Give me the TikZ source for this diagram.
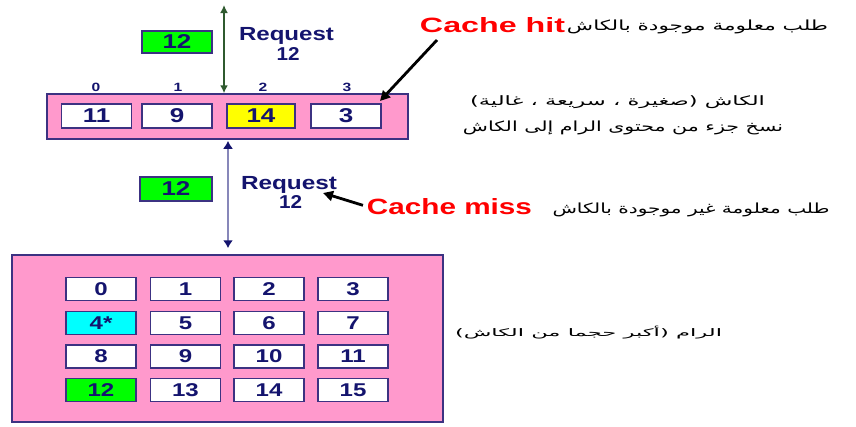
\documentclass[tikz,border=0pt]{standalone}
\usepackage{fontspec}
\usepackage{graphicx}
\setmainfont{Liberation Sans}
\newfontfamily\arabicfont[Script=Arabic]{DejaVu Sans}
\TeXXeTstate=1
\usetikzlibrary{arrows.meta}
\definecolor{pinkfill}{RGB}{255,153,204}
\definecolor{boxline}{RGB}{60,50,130}
\definecolor{navytext}{RGB}{20,20,110}
\definecolor{cellgreen}{RGB}{0,255,0}
\definecolor{cellyellow}{RGB}{255,255,0}
\definecolor{cellcyan}{RGB}{0,255,255}
\definecolor{hitred}{RGB}{255,0,0}
\definecolor{arrowgreen}{RGB}{47,90,47}
\definecolor{arrowblue}{RGB}{135,135,185}
\newcommand{\sx}[1]{\scalebox{1.3}[1]{#1}}
\newcommand{\artext}[3]{\resizebox*{#1}{#2}{\arabicfont #3}}
\begin{document}
\begin{tikzpicture}[x=1pt,y=-1pt,
  pinkbox/.style={draw=boxline,line width=1.5pt,fill=pinkfill,inner sep=0pt},
  cell/.style={draw=boxline,line width=1.4pt,fill=white,inner sep=0pt,
    minimum width=70pt,minimum height=23pt,text=navytext,
    font=\fontsize{18.5}{18.5}\selectfont\bfseries},
  cachecell/.style={cell,minimum height=24pt,font=\fontsize{20}{20}\selectfont\bfseries},
  idx/.style={inner sep=0pt,text=navytext,font=\fontsize{12}{12}\selectfont\bfseries},
  reqtext/.style={inner sep=0pt,text=navytext,font=\bfseries},
  plain/.style={inner sep=0pt},
  pointer/.style={line width=2.8pt,-{Triangle[length=10pt,width=10pt]}}
]
\fill[white] (0,0) rectangle (856,426);
\useasboundingbox (0,0) rectangle (856,426);

% cache
\node[pinkbox,minimum width=361pt,minimum height=45pt] (cache) at (227.5,116.5) {};
\node[cachecell] (c0) at (96.5,116) {\sx{11}};
\node[cachecell] (c1) at (177,116) {\sx{9}};
\node[cachecell,fill=cellyellow,minimum width=68pt] (c2) at (261,116) {\sx{14}};
\node[cachecell] (c3) at (346,116) {\sx{3}};
\node[idx] (i0) at (96,87.5) {\sx{0}};
\node[idx] (i1) at (178,87.5) {\sx{1}};
\node[idx] (i2) at (263,87.5) {\sx{2}};
\node[idx] (i3) at (347,87.5) {\sx{3}};

% RAM
\node[pinkbox,minimum width=431pt,minimum height=167pt] (ram) at (227.5,338.5) {};
\foreach \v/\cx/\cy in {0/101/289,1/185.5/289,2/269/289,3/353/289,
  5/185.5/323,6/269/323,7/353/323,
  8/101/356.5,9/185.5/356.5,10/269/356.5,11/353/356.5,
  13/185.5/390,14/269/390,15/353/390}
  \node[cell] (r\v) at (\cx,\cy) {\sx{\v}};
\node[cell,fill=cellcyan] (r4) at (101,323) {\sx{4*}};
\node[cell,fill=cellgreen] (r12) at (101,390) {\sx{12}};

% requested blocks
\node[cachecell,fill=cellgreen,minimum height=22pt] (g1) at (177,42) {\sx{12}};
\node[cachecell,fill=cellgreen,minimum width=72pt] (g2) at (176,189) {\sx{12}};

% request labels
\node[reqtext] (rq1) at (286.5,35.5) {\resizebox*{95pt}{17pt}{Request}};
\node[reqtext] (rq1n) at (288,53.5) {\resizebox*{23pt}{13pt}{12}};
\node[reqtext] (rq2) at (289,185) {\resizebox*{96pt}{17pt}{Request}};
\node[reqtext] (rq2n) at (290.5,201.5) {\resizebox*{23pt}{13pt}{12}};

% vertical arrows
\coordinate (topend) at (224,5);
\draw[arrowgreen,line width=1.8pt,{Latex[length=8pt,width=8pt]}-{Latex[length=8pt,width=8pt]}]
  (topend) -- (topend |- cache.north);
\coordinate (lowx) at (228,0);
\draw[arrowblue,line width=2.6pt,
  {Latex[length=8pt,width=10pt,color=navytext]}-{Latex[length=8pt,width=10pt,color=navytext]},
  shorten <=1pt,shorten >=6pt]
  (lowx |- cache.south) -- (lowx |- ram.north);

% cache hit
\node[plain] (hit) at (492.5,25.5) {\resizebox{145pt}{15pt}{\color{hitred}\bfseries Cache hit}};
\node[plain] (hitar) at (697.5,27) {\artext{261pt}{14pt}{\beginR طلب معلومة موجودة بالكاش\endR}};
\coordinate (hittail) at (437,40);
\coordinate (hithead) at (380,101);
\draw[pointer] (hittail) -- (hithead);

% cache description
\node[plain] (cachear1) at (617.5,102) {\artext{295pt}{13pt}{\beginR الكاش (صغيرة ، سريعة ، غالية)\endR}};
\node[plain] (cachear2) at (623,128) {\artext{320pt}{14pt}{\beginR نسخ جزء من محتوى الرام إلى الكاش\endR}};

% cache miss
\node[plain] (miss) at (449.5,206.5) {\resizebox{165pt}{16pt}{\color{hitred}\bfseries Cache miss}};
\node[plain] (missar) at (691,210) {\artext{277pt}{14pt}{\beginR طلب معلومة غير موجودة بالكاش\endR}};
\coordinate (misshead) at (323,193);
\draw[pointer,shorten <=4pt] (miss.west) -- (misshead);

% RAM description
\node[plain] (ramar) at (588.5,333) {\artext{267pt}{13pt}{\beginR الرام (أكبر حجما من الكاش)\endR}};
\end{tikzpicture}
\end{document}
